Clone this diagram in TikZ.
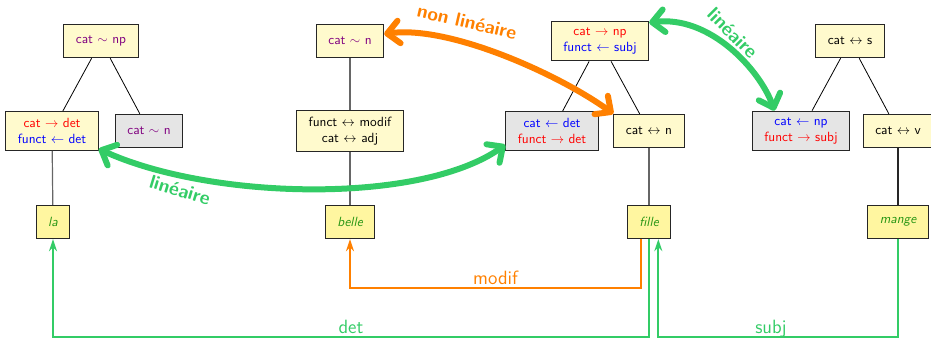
\documentclass[tikz,border=0pt]{standalone}
\usetikzlibrary{arrows.meta,calc}
\definecolor{lexfill}{RGB}{255,250,205}
\definecolor{wordfill}{RGB}{255,246,160}
\definecolor{grayfill}{RGB}{229,229,229}
\definecolor{lingreen}{RGB}{51,204,102}
\definecolor{nlorange}{RGB}{255,128,0}
\definecolor{wordgreen}{RGB}{40,150,20}
\definecolor{tildecol}{RGB}{128,0,128}
\begin{document}
\begin{tikzpicture}[x=0.75pt,y=-0.75pt, font=\sffamily,
 box/.style={draw=black!85, line width=0.8pt, inner xsep=9pt, inner ysep=5pt, minimum height=25pt, align=center},
 lex/.style={box, fill=lexfill},
 grey/.style={box, fill=grayfill},
 word/.style={box, fill=wordfill, text=wordgreen, font=\sffamily\itshape, minimum width=25pt},
 tree/.style={line width=0.6pt, black},
 anchorline/.style={line width=0.9pt, black!60},
 bigarrow/.style={line width=4.5pt, line cap=round, >={Straight Barb[round,length=9pt,width=17pt]}, <->},
 dep/.style={line width=1.3pt, -{Stealth[length=9pt,width=6pt]}},
 deplabel/.style={font=\sffamily\Large, inner sep=0pt, anchor=base, yshift=3pt},
 curvelabel/.style={font=\sffamily\Large\bfseries}
]
\useasboundingbox (0,0) rectangle (931,343);

% group 1
\node[lex] (np1) at (101,41) {\color{tildecol}cat $\sim$ np};
\node[lex] (d1) at (52,131) {\color{red}cat $\rightarrow$ det\\\color{blue}funct $\leftarrow$ det};
\node[grey] (g1) at (149,131) {\color{tildecol}cat $\sim$ n};
\node[word] (la) at (53,222) {la};

% group 2
\node[lex] (n2) at (350,41) {\color{tildecol}cat $\sim$ n};
\node[lex] (m) at (350,131) {funct $\leftrightarrow$ modif\\cat $\leftrightarrow$ adj};
\node[word] (belle) at (350,222) {belle};

% group 3
\node[lex] (np3) at (600,41) {\color{red}cat $\rightarrow$ np\\\color{blue}funct $\leftarrow$ subj};
\node[grey] (g2) at (552,131) {\color{blue}cat $\leftarrow$ det\\\color{red}funct $\rightarrow$ det};
\node[lex] (cn) at (649,131) {cat $\leftrightarrow$ n};
\node[word] (fille) at (649,222) {fille};

% group 4
\node[lex] (s) at (850,41) {cat $\leftrightarrow$ s};
\node[grey] (g3) at (801,131) {\color{blue}cat $\leftarrow$ np\\\color{red}funct $\rightarrow$ subj};
\node[lex] (cv) at (898,131) {cat $\leftrightarrow$ v};
\node[word] (mange) at (898,222) {mange};

% tree edges
\draw[tree] (np1) -- (d1);
\draw[tree] (np1) -- (g1);
\draw[tree] (np3) -- (g2);
\draw[tree] (np3) -- (cn);
\draw[tree] (s) -- (g3);
\draw[tree] (s) -- (cv);
\draw[anchorline] (d1) -- (la);
\draw[anchorline] (n2) -- (m);
\draw[anchorline] (m) -- (belle);
\draw[anchorline] (cn) -- (fille);
\draw[anchorline, black!85] (cv) -- (mange);

% big curved arrows
\draw[bigarrow, lingreen] ([yshift=1.5pt]d1.south east) .. controls (210,200) and (420,205) .. ([yshift=4.5pt]g2.south west);
\draw[bigarrow, nlorange] ([yshift=5.25pt]n2.east) .. controls (450,25) and (560,75) .. (cn.north west);
\draw[bigarrow, lingreen] ([yshift=-1.5pt]np3.north east) .. controls (710,15) and (760,70) .. ([xshift=17pt]g3.north west);

\node[curvelabel, text=lingreen, rotate=-17] (l1) at (180,190) {linéaire};
\node[curvelabel, text=nlorange, rotate=-13] (l2) at (467,22) {non linéaire};
\node[curvelabel, text=lingreen, rotate=-45] (l3) at (733,33) {linéaire};

% dependency connectors
\coordinate (mY) at (0,288);
\coordinate (dY) at (0,337);
\draw[dep, nlorange] ([xshift=-6pt]fille.south) -- ([xshift=-6pt]fille.south |- mY) -- node[deplabel, text=nlorange] {modif} (belle.south |- mY) -- (belle.south);
\draw[dep, lingreen] (fille.south) -- (fille.south |- dY) -- node[deplabel, text=lingreen] {det} (la.south |- dY) -- (la.south);
\draw[dep, lingreen] (mange.south) -- (mange.south |- dY) -- node[deplabel, text=lingreen, pos=0.53] {subj} ([xshift=7pt]fille.south |- dY) -- ([xshift=7pt]fille.south);
\end{tikzpicture}
\end{document}
